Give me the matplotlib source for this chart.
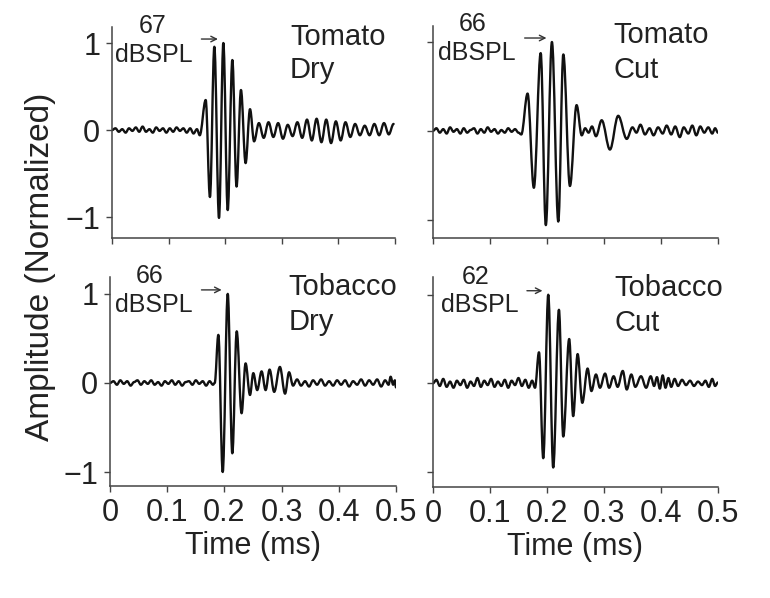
import matplotlib

matplotlib.use("Agg")
import matplotlib.pyplot as plt
from matplotlib.path import Path
from matplotlib.patches import PathPatch

plt.rcParams["font.family"] = ["Liberation Sans", "DejaVu Sans"]

# ---- data (time in ms, normalized amplitude) ----
# each list holds the successive peaks / troughs of the trace
tomato_dry_t = [
    0.000, 0.006, 0.012, 0.018, 0.024, 0.030, 0.036, 0.042, 0.048, 0.054,
    0.060, 0.066, 0.072, 0.078, 0.084, 0.090, 0.096, 0.102, 0.108, 0.114,
    0.120, 0.126, 0.132, 0.138, 0.144, 0.150, 0.155,
    0.1655, 0.173, 0.1808, 0.189, 0.1967, 0.2044, 0.2126, 0.220, 0.2278,
    0.236, 0.2438, 0.251,
    0.2595, 0.268, 0.2765, 0.285, 0.2935, 0.302, 0.3105, 0.319, 0.3275,
    0.336, 0.3445, 0.353, 0.3615, 0.370, 0.3785, 0.387, 0.3955, 0.404,
    0.4125, 0.421, 0.4295, 0.438, 0.4465, 0.455, 0.4635, 0.472, 0.4805,
    0.489, 0.4975,
]
tomato_dry_a = [
    0.00, 0.02, -0.02, 0.01, -0.03, 0.02, -0.01, 0.03, -0.02, 0.04,
    -0.02, 0.01, -0.03, 0.03, -0.01, 0.02, -0.03, 0.02, -0.02, 0.03,
    -0.01, 0.02, -0.03, 0.02, -0.04, 0.01, -0.06,
    0.345, -0.77, 0.957, -1.01, 1.00, -0.92, 0.805, -0.65, 0.46,
    -0.38, 0.24, -0.13,
    0.08, -0.09, 0.09, -0.08, 0.08, -0.10, 0.06, -0.07, 0.09,
    -0.09, 0.12, -0.12, 0.13, -0.14, 0.12, -0.15, 0.10, -0.12,
    0.09, -0.08, 0.07, -0.06, 0.05, -0.06, 0.07, -0.06, 0.08,
    -0.05, 0.07,
]

tomato_cut_t = [
    0.000, 0.006, 0.012, 0.018, 0.024, 0.030, 0.036, 0.042, 0.048, 0.054,
    0.060, 0.066, 0.072, 0.078, 0.084, 0.090, 0.096, 0.102, 0.108, 0.114,
    0.120, 0.126, 0.132, 0.138, 0.144, 0.150, 0.155,
    0.166, 0.177, 0.189, 0.198, 0.2087, 0.2199, 0.2287, 0.2403, 0.252, 0.261,
    0.267, 0.273, 0.279, 0.286, 0.296, 0.3105, 0.325, 0.340, 0.350, 0.357,
    0.364, 0.372, 0.380, 0.387, 0.395, 0.403, 0.410, 0.418, 0.425, 0.433,
    0.440, 0.448, 0.455, 0.462, 0.469, 0.476, 0.483, 0.490, 0.495, 0.500,
]
tomato_cut_a = [
    0.00, 0.03, -0.02, 0.02, -0.03, 0.04, -0.01, 0.02, -0.03, 0.03,
    -0.02, 0.01, 0.03, -0.03, 0.02, -0.02, 0.04, -0.01, 0.02, -0.03,
    0.01, -0.02, 0.03, -0.01, 0.02, -0.02, -0.04,
    0.42, -0.64, 0.875, -1.06, 1.00, -1.02, 0.86, -0.62, 0.29, -0.05,
    0.03, -0.02, 0.05, -0.06, 0.12, -0.21, 0.17, -0.09, 0.04, -0.02,
    0.07, -0.04, 0.03, -0.05, 0.04, -0.03, 0.06, -0.04, 0.05, -0.07,
    0.04, -0.03, 0.06, -0.05, 0.05, -0.02, 0.04, -0.03, 0.03, -0.02,
]

tobacco_dry_t = [
    0.000, 0.006, 0.012, 0.018, 0.024, 0.030, 0.036, 0.042, 0.048, 0.054,
    0.060, 0.066, 0.072, 0.078, 0.084, 0.090, 0.096, 0.102, 0.108, 0.114,
    0.120, 0.126, 0.132, 0.138, 0.144, 0.150, 0.156, 0.162, 0.168, 0.174,
    0.180, 0.183,
    0.1894, 0.197, 0.2058, 0.2138, 0.2215, 0.230, 0.237, 0.2447,
    0.2505, 0.2573, 0.265, 0.272, 0.279, 0.287, 0.297, 0.306, 0.313, 0.320,
    0.327, 0.334, 0.341, 0.348, 0.355, 0.362, 0.369, 0.376, 0.383, 0.390,
    0.397, 0.404, 0.411, 0.418, 0.425, 0.432, 0.439, 0.446, 0.453, 0.460,
    0.467, 0.474, 0.481, 0.487, 0.4906, 0.495, 0.498, 0.500,
]
tobacco_dry_a = [
    0.00, 0.02, -0.02, 0.03, -0.01, 0.02, -0.03, 0.01, 0.03, -0.02,
    0.02, -0.01, 0.03, -0.02, 0.01, -0.03, 0.02, -0.01, 0.03, -0.02,
    0.02, -0.03, 0.01, 0.02, -0.02, 0.03, -0.01, 0.02, -0.03, 0.02,
    -0.02, 0.00,
    0.54, -1.00, 1.00, -0.79, 0.58, -0.34, 0.22, -0.135,
    0.11, -0.08, 0.13, -0.08, 0.15, -0.10, 0.18, -0.12, 0.12, -0.03,
    0.04, -0.03, 0.02, -0.04, 0.03, -0.02, 0.04, -0.03, 0.02, -0.03,
    0.03, -0.02, 0.03, -0.04, 0.02, -0.02, 0.04, -0.03, 0.03, -0.02,
    0.04, -0.04, 0.03, -0.02, 0.07, -0.02, 0.03, -0.05,
]

tobacco_cut_t = [
    0.000, 0.006, 0.012, 0.018, 0.024, 0.030, 0.036, 0.042, 0.048, 0.054,
    0.060, 0.066, 0.072, 0.078, 0.084, 0.090, 0.096, 0.102, 0.108, 0.114,
    0.120, 0.126, 0.132, 0.138, 0.144, 0.150, 0.156, 0.162, 0.168, 0.174,
    0.179,
    0.186, 0.1935, 0.2023, 0.211, 0.221, 0.2286, 0.239, 0.246, 0.2538,
    0.262, 0.2713, 0.278,
    0.286, 0.293, 0.302, 0.309, 0.317, 0.324, 0.333, 0.340, 0.348, 0.355,
    0.365, 0.374, 0.382, 0.388, 0.393, 0.398, 0.403, 0.408, 0.413, 0.418,
    0.424, 0.430, 0.437, 0.444, 0.451, 0.458, 0.465, 0.472, 0.478, 0.484,
    0.490, 0.495, 0.500,
]
tobacco_cut_a = [
    0.00, 0.04, -0.03, 0.05, -0.04, 0.02, -0.05, 0.03, -0.02, 0.04,
    -0.05, 0.02, -0.03, 0.06, -0.04, 0.03, -0.02, 0.05, -0.04, 0.02,
    -0.03, 0.04, -0.05, 0.03, -0.02, 0.06, -0.03, 0.04, -0.05, 0.03,
    -0.05,
    0.35, -0.845, 1.00, -0.95, 0.83, -0.60, 0.50, -0.37, 0.33,
    -0.22, 0.167, -0.087,
    0.10, -0.05, 0.11, -0.05, 0.08, -0.04, 0.14, -0.07, 0.10, -0.04,
    0.08, -0.05, 0.08, -0.03, 0.07, -0.06, 0.09, -0.05, 0.06, -0.04,
    0.05, -0.03, 0.04, -0.02, 0.03, -0.03, 0.02, -0.02, 0.03, -0.04,
    0.05, -0.03, 0.01,
]

plant_labels = [("Tomato", "Dry"), ("Tomato", "Cut"), ("Tobacco", "Dry"), ("Tobacco", "Cut")]
spl_labels = ["67", "66", "66", "62"]
x_ticks = [0, 0.1, 0.2, 0.3, 0.4, 0.5]
x_tick_labels = ["0", "0.1", "0.2", "0.3", "0.4", "0.5"]
y_ticks = [-1, 0, 1]
y_tick_labels = ["\u22121", "0", "1"]

traces = [
    (tomato_dry_t, tomato_dry_a),
    (tomato_cut_t, tomato_cut_a),
    (tobacco_dry_t, tobacco_dry_a),
    (tobacco_cut_t, tobacco_cut_a),
]

# ---- layout (figure fractions, y limits, label anchors in data coords) ----
rects = [
    [0.1455, 0.602, 0.3675, 0.3528],
    [0.5623, 0.602, 0.3701, 0.3545],
    [0.1429, 0.1873, 0.3714, 0.3495],
    [0.5623, 0.1856, 0.3701, 0.3512],
]
ylims = [(-1.241, 1.184), (-1.205, 1.18), (-1.157, 1.19), (-1.17, 1.20)]
num_pos = [(0.071, 1.115), (0.070, 1.125), (0.070, 1.124), (0.074, 1.125)]
db_pos = [(0.074, 0.78), (0.077, 0.795), (0.077, 0.80), (0.082, 0.807)]
arrow_pos = [(0.153, 0.192, 1.046), (0.156, 0.204, 1.045), (0.155, 0.200, 1.045), (0.160, 0.197, 1.045)]
name_pos = [(0.3145, 0.977, 0.598), (0.316, 0.989, 0.59), (0.312, 0.99, 0.60), (0.319, 0.99, 0.59)]

text_color = "#222222"
axis_color = "#444444"


def smooth_trace(ax, t, a):
    # peaks/troughs joined by cubic segments with flat tangents at each extremum
    verts = [(t[0], a[0])]
    codes = [Path.MOVETO]
    for k in range(1, len(t)):
        dt = t[k] - t[k - 1]
        verts += [(t[k - 1] + 0.36 * dt, a[k - 1]), (t[k] - 0.36 * dt, a[k]), (t[k], a[k])]
        codes += [Path.CURVE4] * 3
    ax.add_patch(PathPatch(Path(verts, codes), fill=False, edgecolor="#111111",
                           lw=1.7, joinstyle="round", capstyle="round"))


fig = plt.figure(figsize=(7.7, 5.98), dpi=100)

for i, (t, a) in enumerate(traces):
    ax = fig.add_axes(rects[i])
    smooth_trace(ax, t, a)
    ax.set_xlim(0, 0.5)
    ax.set_ylim(*ylims[i])
    for side in ("top", "right"):
        ax.spines[side].set_visible(False)
    for side in ("left", "bottom"):
        ax.spines[side].set_color(axis_color)
        ax.spines[side].set_linewidth(1.1)
    ax.set_xticks(x_ticks)
    ax.set_yticks(y_ticks)
    ax.tick_params(length=4.5, width=1.0, color=axis_color, labelcolor=text_color,
                   labelsize=22, pad=4)
    if i < 2:
        ax.set_xticklabels([])
    else:
        ax.set_xticklabels(x_tick_labels)
        ax.set_xlabel("Time (ms)", fontsize=22, color=text_color, labelpad=2)
    if i % 2 == 1:
        ax.set_yticklabels([])
    else:
        ax.set_yticklabels(y_tick_labels)

    nx, ny = num_pos[i]
    ax.text(nx, ny, spl_labels[i], fontsize=18, color=text_color, ha="center", va="baseline")
    dx, dy = db_pos[i]
    ax.text(dx, dy, "dBSPL", fontsize=18, color=text_color, ha="center", va="baseline")
    x1, x2, ay = arrow_pos[i]
    ax.annotate("", xy=(x2, ay), xytext=(x1, ay),
                arrowprops=dict(arrowstyle="->", color="#333333", lw=1.0))
    px, py1, py2 = name_pos[i]
    ax.text(px, py1, plant_labels[i][0], fontsize=21, color=text_color, ha="left", va="baseline")
    ax.text(px, py2, plant_labels[i][1], fontsize=21, color=text_color, ha="left", va="baseline")

fig.text(0.052, 0.553, "Amplitude (Normalized)", rotation=90, fontsize=24,
         color=text_color, ha="center", va="center")

fig.savefig("out.png", dpi=100)
